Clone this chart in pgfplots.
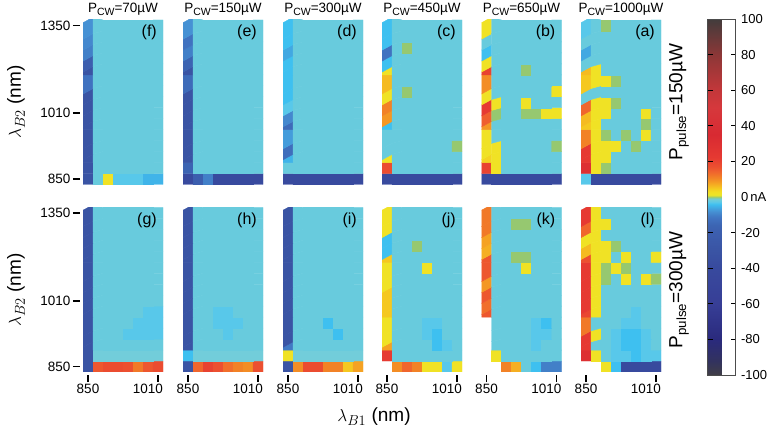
\documentclass[border=0pt]{standalone}
\usepackage{pgfplots}
\pgfplotsset{compat=1.18}
\usepackage{fontspec}
\setmainfont{Liberation Sans}
\pgfplotsset{
  colormap={heat}{
    rgb255(0pt)=(64,62,70);
    rgb255(8pt)=(50,50,95);
    rgb255(20pt)=(42,42,125);
    rgb255(40pt)=(55,62,150);
    rgb255(60pt)=(56,74,158);
    rgb255(70pt)=(58,84,164);
    rgb255(80pt)=(60,94,174);
    rgb255(84pt)=(60,100,178);
    rgb255(88pt)=(64,114,192);
    rgb255(90pt)=(66,128,200);
    rgb255(92pt)=(70,145,212);
    rgb255(94pt)=(66,168,226);
    rgb255(96pt)=(62,192,240);
    rgb255(97pt)=(88,200,234);
    rgb255(98pt)=(104,203,221);
    rgb255(99pt)=(114,205,218);
    rgb255(100pt)=(150,200,112);
    rgb255(101pt)=(238,230,40);
    rgb255(103pt)=(242,222,35);
    rgb255(105pt)=(245,200,32);
    rgb255(108pt)=(245,162,35);
    rgb255(111pt)=(242,130,38);
    rgb255(114pt)=(240,102,45);
    rgb255(117pt)=(236,80,48);
    rgb255(122pt)=(230,58,50);
    rgb255(135pt)=(216,42,50);
    rgb255(150pt)=(214,56,60);
    rgb255(160pt)=(195,55,58);
    rgb255(180pt)=(140,55,55);
    rgb255(200pt)=(66,60,60);
  },
  colormap={heatw}{
    rgb255(0pt)=(255,255,255);
    rgb255(5pt)=(255,255,255);
    rgb255(10pt)=(64,62,70);
    rgb255(18pt)=(50,50,95);
    rgb255(30pt)=(42,42,125);
    rgb255(50pt)=(55,62,150);
    rgb255(70pt)=(56,74,158);
    rgb255(80pt)=(58,84,164);
    rgb255(90pt)=(60,94,174);
    rgb255(94pt)=(60,100,178);
    rgb255(98pt)=(64,114,192);
    rgb255(100pt)=(66,128,200);
    rgb255(102pt)=(70,145,212);
    rgb255(104pt)=(66,168,226);
    rgb255(106pt)=(62,192,240);
    rgb255(107pt)=(88,200,234);
    rgb255(108pt)=(104,203,221);
    rgb255(109pt)=(114,205,218);
    rgb255(110pt)=(150,200,112);
    rgb255(111pt)=(238,230,40);
    rgb255(113pt)=(242,222,35);
    rgb255(115pt)=(245,200,32);
    rgb255(118pt)=(245,162,35);
    rgb255(121pt)=(242,130,38);
    rgb255(124pt)=(240,102,45);
    rgb255(127pt)=(236,80,48);
    rgb255(132pt)=(230,58,50);
    rgb255(145pt)=(216,42,50);
    rgb255(160pt)=(214,56,60);
    rgb255(170pt)=(195,55,58);
    rgb255(190pt)=(140,55,55);
    rgb255(210pt)=(66,60,60);
  },
  panel/.style={
    scale only axis, width=80pt, height=164.5pt,
    xmin=-0.5, xmax=7.5, ymin=-0.5, ymax=14.5,
    enlargelimits=false, anchor=south west,
    axis line style={draw=none},
    colormap name=heat,
    point meta min=-100, point meta max=100,
    xtick=\empty, ytick=\empty,
    xtick pos=bottom, ytick pos=left,
    tick align=outside, major tick length=7pt,
    tick style={black, line width=1.6pt},
    xtick style={yshift=-3pt}, ytick style={xshift=-3pt},
    ticklabel style={font=\fontsize{13.5}{16}\selectfont},
    xticklabel style={yshift=-2pt},
    yticklabel style={xshift=-2pt},
    /pgf/number format/assume math mode=true,
  },
  withblank/.style={colormap name=heatw, point meta min=-110, point meta max=100},
  lefty/.style={ytick={0,6,14}, yticklabels={850,1010,1350}},
  botx/.style={xtick={0,7}, xticklabels={850,\makebox[10pt][r]{1010}}},
  cells/.style={matrix plot*, mesh/cols=8, point meta=explicit},
  /pgfplots/table/celltab/.style={header=false, row sep=\\,
    x expr={mod(\coordindex,8)}, y expr={floor(\coordindex/8)}, meta index=0},
}
\begin{document}
\begin{tikzpicture}[x=1pt,y=1pt]
\useasboundingbox (0,0) rectangle (771,431);
% rows are listed from the bottom (850 nm) to the top (1350 nm)
% ---------------- top row (Ppulse = 150) ----------------
% (f) 70
\begin{axis}[panel, lefty, at={(83pt,246.5pt)}]
\addplot[cells] table[celltab] {
-30\\-2\\2\\-3\\-3\\-3\\-5\\-5\\
-30\\-2\\-2\\-2\\-2\\-2\\-2\\-2\\
-30\\-2\\-2\\-2\\-2\\-2\\-2\\-2\\
-30\\-2\\-2\\-2\\-2\\-2\\-2\\-2\\
-30\\-2\\-2\\-2\\-2\\-2\\-2\\-2\\
-30\\-2\\-2\\-2\\-2\\-2\\-2\\-2\\
-30\\-2\\-2\\-2\\-2\\-2\\-2\\-2\\
-30\\-2\\-2\\-2\\-2\\-2\\-2\\-2\\
-30\\-2\\-2\\-2\\-2\\-2\\-2\\-2\\
-12\\-2\\-2\\-2\\-2\\-2\\-2\\-2\\
-30\\-2\\-2\\-2\\-2\\-2\\-2\\-2\\
-20\\-2\\-2\\-2\\-2\\-2\\-2\\-2\\
-10\\-2\\-2\\-2\\-2\\-2\\-2\\-2\\
-9\\-2\\-2\\-2\\-2\\-2\\-2\\-2\\
-8\\-2\\-2\\-2\\-2\\-2\\-2\\-2\\
};
\end{axis}
% (e) 150
\begin{axis}[panel, at={(183pt,246.5pt)}]
\addplot[cells] table[celltab] {
-40\\-20\\-10\\-40\\-40\\-40\\-40\\-40\\
-16\\-2\\-2\\-2\\-2\\-2\\-2\\-2\\
-30\\-2\\-2\\-2\\-2\\-2\\-2\\-2\\
-30\\-2\\-2\\-2\\-2\\-2\\-2\\-2\\
-30\\-2\\-2\\-2\\-2\\-2\\-2\\-2\\
-30\\-2\\-2\\-2\\-2\\-2\\-2\\-2\\
-30\\-2\\-2\\-2\\-2\\-2\\-2\\-2\\
-30\\-2\\-2\\-2\\-2\\-2\\-2\\-2\\
-30\\-2\\-2\\-2\\-2\\-2\\-2\\-2\\
-14\\-2\\-2\\-2\\-2\\-2\\-2\\-2\\
-30\\-2\\-2\\-2\\-2\\-2\\-2\\-2\\
-16\\-2\\-2\\-2\\-2\\-2\\-2\\-2\\
-10\\-2\\-2\\-2\\-2\\-2\\-2\\-2\\
-12\\-2\\-2\\-2\\-2\\-2\\-2\\-2\\
-8\\-2\\-2\\-2\\-2\\-2\\-2\\-2\\
};
\end{axis}
% (d) 300
\begin{axis}[panel, at={(283pt,246.5pt)}]
\addplot[cells] table[celltab] {
-40\\-40\\-40\\-40\\-40\\-40\\-40\\-40\\
-2\\-2\\-2\\-2\\-2\\-2\\-2\\-2\\
-5\\-2\\-2\\-2\\-2\\-2\\-2\\-2\\
-13\\-2\\-2\\-2\\-2\\-2\\-2\\-2\\
-7\\-2\\-2\\-2\\-2\\-2\\-2\\-2\\
-14\\-2\\-2\\-2\\-2\\-2\\-2\\-2\\
-9\\-2\\-2\\-2\\-2\\-2\\-2\\-2\\
-3\\-2\\-2\\-2\\-2\\-2\\-2\\-2\\
-4\\-2\\-2\\-2\\-2\\-2\\-2\\-2\\
-4\\-2\\-2\\-2\\-2\\-2\\-2\\-2\\
-4\\-2\\-2\\-2\\-2\\-2\\-2\\-2\\
-4\\-2\\-2\\-2\\-2\\-2\\-2\\-2\\
-6\\-2\\-2\\-2\\-2\\-2\\-2\\-2\\
-4\\-2\\-2\\-2\\-2\\-2\\-2\\-2\\
-4\\-2\\-2\\-2\\-2\\-2\\-2\\-2\\
};
\end{axis}
% (c) 450
\begin{axis}[panel, at={(382pt,246.5pt)}]
\addplot[cells] table[celltab] {
-40\\-40\\-40\\-40\\-40\\-40\\-40\\-40\\
18\\-2\\-2\\-2\\-2\\-2\\-2\\-2\\
2\\-2\\-2\\-2\\-2\\-2\\-2\\-2\\
-2\\-2\\-2\\-2\\-2\\-2\\-2\\0\\
-2\\-2\\-2\\-2\\-2\\-2\\-2\\-2\\
-4\\-2\\-2\\-2\\-2\\-2\\-2\\-2\\
9\\-2\\-2\\-2\\-2\\-2\\-2\\-2\\
11\\-2\\-2\\-2\\-2\\-2\\-2\\-2\\
2\\-2\\0\\-2\\-2\\-2\\-2\\-2\\
6\\-2\\-2\\-2\\-2\\-2\\-2\\-2\\
2\\-2\\-2\\-2\\-2\\-2\\-2\\-2\\
-4\\-2\\-2\\-2\\-2\\-2\\-2\\-2\\
-12\\-2\\0\\-2\\-2\\-2\\-2\\-2\\
-4\\-2\\-2\\-2\\-2\\-2\\-2\\-2\\
-4\\-2\\-2\\-2\\-2\\-2\\-2\\-2\\
};
\end{axis}
% (b) 650
\begin{axis}[panel, at={(481.5pt,246.5pt)}]
\addplot[cells] table[celltab] {
-40\\-40\\-40\\-40\\-40\\-40\\-40\\-40\\
20\\2\\-2\\-2\\-2\\-2\\-2\\-2\\
4\\2\\-2\\-2\\-2\\-2\\-2\\-2\\
2\\2\\-2\\-2\\-2\\-2\\-2\\0\\
2\\-2\\-2\\-2\\-2\\-2\\-2\\-2\\
9\\-2\\-2\\-2\\-2\\-2\\-2\\-2\\
15\\0\\-2\\-2\\0\\0\\2\\2\\
22\\2\\-2\\-2\\2\\-2\\-2\\-2\\
2\\-2\\-2\\-2\\-2\\-2\\-2\\2\\
10\\-2\\-2\\-2\\-2\\-2\\-2\\-2\\
20\\-2\\-2\\-2\\0\\-2\\-2\\-2\\
2\\-2\\-2\\-2\\-2\\-2\\-2\\-2\\
-4\\-2\\-2\\-2\\-2\\-2\\-2\\-2\\
-2\\-2\\-2\\-2\\-2\\-2\\-2\\-2\\
2\\-2\\-2\\-2\\-2\\-2\\-2\\-2\\
};
\end{axis}
% (a) 1000
\begin{axis}[panel, at={(581pt,246.5pt)},
  colorbar,
  colorbar style={
    at={(parent axis.north east)}, anchor=north west,
    xshift=38pt, yshift=1pt,
    scale only axis, width=28pt, height=356pt,
    ytick={-80,-60,-40,-20,20,40,60,80},
    yticklabels={-80,-60,-40,-20,20,40,60,80},
    extra y ticks={-100,0,100},
    extra y tick labels={-100,0\,nA,100},
    extra y tick style={major tick length=0pt},
    tick align=inside, major tick length=5pt,
    ytick pos=both, yticklabel pos=right,
    tick style={black, line width=1pt},
    yticklabel style={font=\fontsize{13}{15}\selectfont, anchor=west, xshift=2pt},
    axis line style={draw=black!70, line width=0.8pt},
    /pgf/number format/assume math mode=true,
  }]
\addplot[cells] table[celltab] {
-3\\-40\\-40\\-40\\-40\\-40\\-40\\-40\\
30\\2\\0\\-2\\-2\\-2\\-2\\-2\\
22\\2\\2\\-2\\-2\\-2\\-2\\-2\\
22\\2\\2\\2\\-2\\0\\-2\\-2\\
11\\2\\0\\-2\\0\\-2\\2\\-2\\
5\\2\\-2\\-2\\-2\\-2\\0\\-2\\
6\\2\\2\\-2\\-2\\-2\\2\\-2\\
14\\2\\2\\0\\-2\\-2\\-2\\-2\\
-2\\-2\\-2\\-2\\-2\\-2\\-2\\-2\\
5\\2\\2\\0\\-2\\-2\\-2\\-2\\
6\\2\\-2\\-2\\-2\\-2\\-2\\-2\\
-2\\-2\\-2\\-2\\-2\\-2\\-2\\-2\\
-6\\-2\\-2\\-2\\-2\\-2\\-2\\-2\\
-2\\-2\\-2\\-2\\-2\\-2\\-2\\-2\\
-3\\-2\\0\\-2\\-2\\-2\\-2\\-2\\
};
\end{axis}
% ---------------- bottom row (Ppulse = 300) ----------------
% (g) 70
\begin{axis}[panel, lefty, botx, at={(83pt,59pt)}]
\addplot[cells] table[celltab] {
-30\\16\\18\\18\\17\\12\\16\\18\\
-30\\-1\\-1\\-1\\-1\\-1\\-1\\-1\\
-30\\-2\\-2\\-2\\-2\\-2\\-2\\-2\\
-30\\-2\\-2\\-2\\-3\\-3\\-3\\-3\\
-30\\-2\\-2\\-2\\-2\\-3\\-3\\-3\\
-30\\-2\\-2\\-2\\-2\\-2\\-3\\-3\\
-30\\-2\\-2\\-2\\-2\\-2\\-2\\-2\\
-30\\-2\\-2\\-2\\-2\\-2\\-2\\-2\\
-30\\-2\\-2\\-2\\-2\\-2\\-2\\-2\\
-30\\-2\\-2\\-2\\-2\\-2\\-2\\-2\\
-30\\-2\\-2\\-2\\-2\\-2\\-2\\-2\\
-30\\-2\\-2\\-2\\-2\\-2\\-2\\-2\\
-30\\-2\\-2\\-2\\-2\\-2\\-2\\-2\\
-30\\-2\\-2\\-2\\-2\\-2\\-2\\-2\\
-30\\-2\\-2\\-2\\-2\\-2\\-2\\-2\\
};
\end{axis}
% (h) 150
\begin{axis}[panel, botx, at={(183pt,59pt)}]
\addplot[cells] table[celltab] {
-30\\14\\20\\17\\13\\11\\10\\17\\
-4\\-1\\-1\\-1\\-1\\-1\\-1\\-1\\
-30\\-2\\-2\\-2\\-2\\-2\\-2\\-2\\
-30\\-2\\-2\\-2\\-3\\-2\\-2\\-2\\
-30\\-2\\-2\\-3\\-3\\-3\\-2\\-2\\
-30\\-2\\-2\\-3\\-3\\-2\\-2\\-2\\
-30\\-2\\-2\\-2\\-2\\-2\\-2\\-2\\
-30\\-2\\-2\\-2\\-2\\-2\\-2\\-2\\
-30\\-2\\-2\\-2\\-2\\-2\\-2\\-2\\
-30\\-2\\-2\\-2\\-2\\-2\\-2\\-2\\
-30\\-2\\-2\\-2\\-2\\-2\\-2\\-2\\
-30\\-2\\-2\\-2\\-2\\-2\\-2\\-2\\
-30\\-2\\-2\\-2\\-2\\-2\\-2\\-2\\
-30\\-2\\-2\\-2\\-2\\-2\\-2\\-2\\
-30\\-2\\-2\\-2\\-2\\-2\\-2\\-2\\
};
\end{axis}
% (i) 300
\begin{axis}[panel, botx, at={(283pt,59pt)}]
\addplot[cells] table[celltab] {
-30\\10\\18\\18\\11\\11\\5\\8\\
2\\-1\\-1\\-1\\-1\\-1\\-1\\-1\\
-11\\-2\\-2\\-2\\-2\\-2\\-2\\-2\\
-30\\-2\\-2\\-2\\-2\\-4\\-2\\-2\\
-30\\-2\\-2\\-2\\-4\\-2\\-2\\-2\\
-30\\-2\\-2\\-2\\-2\\-2\\-2\\-2\\
-30\\-2\\-2\\-2\\-2\\-2\\-2\\-2\\
-30\\-2\\-2\\-2\\-2\\-2\\-2\\-2\\
-30\\-2\\-2\\-2\\-2\\-2\\-2\\-2\\
-30\\-2\\-2\\-2\\-2\\-2\\-2\\-2\\
-30\\-2\\-2\\-2\\-2\\-2\\-2\\-2\\
-30\\-2\\-2\\-2\\-2\\-2\\-2\\-2\\
-30\\-2\\-2\\-2\\-2\\-2\\-2\\-2\\
-30\\-2\\-2\\-2\\-2\\-2\\-2\\-2\\
-30\\-2\\-2\\-2\\-2\\-2\\-2\\-2\\
};
\end{axis}
% (j) 450  (-110 = no data, white)
\begin{axis}[panel, withblank, botx, at={(382pt,59pt)}]
\addplot[cells] table[celltab] {
-110\\10\\14\\11\\2\\2\\-3\\2\\
22\\-2\\-2\\-2\\-2\\-2\\-2\\-2\\
8\\-2\\-2\\-2\\-2\\-4\\-3\\-2\\
2\\-2\\-2\\-2\\-3\\-4\\-2\\-2\\
2\\-2\\-2\\-2\\-3\\-3\\-2\\-2\\
5\\-2\\-2\\-2\\-2\\-2\\-2\\-2\\
5\\-2\\-2\\-2\\-2\\-2\\-2\\-2\\
5\\-2\\-2\\-2\\-2\\-2\\-2\\-2\\
2\\-2\\-2\\-2\\-2\\-2\\-2\\-2\\
2\\-2\\-2\\-2\\2\\-2\\-2\\-2\\
5\\-2\\-2\\-2\\-2\\-2\\-2\\-2\\
-4\\-2\\-2\\0\\-2\\-2\\-2\\-2\\
-4\\-2\\-2\\-2\\-2\\-2\\-2\\-2\\
2\\-2\\-2\\-2\\-2\\-2\\-2\\-2\\
2\\-2\\-2\\-2\\-2\\-2\\-2\\-2\\
};
\end{axis}
% (k) 650
\begin{axis}[panel, withblank, botx, at={(481.5pt,59pt)}]
\addplot[cells] table[celltab] {
-110\\-110\\11\\7\\-2\\-4\\-10\\-10\\
-110\\2\\-2\\-2\\-2\\-2\\-2\\-2\\
-110\\-2\\-2\\-2\\-2\\-3\\-2\\-2\\
-110\\-2\\-2\\-2\\-2\\-3\\-3\\-2\\
-110\\-2\\-2\\-2\\-2\\-3\\-4\\-2\\
16\\-2\\-2\\-2\\-2\\-2\\-2\\-2\\
13\\-2\\-2\\-2\\-2\\-2\\-2\\-2\\
16\\-2\\-2\\-2\\-2\\-2\\-2\\-2\\
9\\-2\\-2\\-2\\-2\\-2\\-2\\-2\\
16\\-2\\-2\\-2\\2\\-2\\-2\\-2\\
16\\-2\\-2\\0\\0\\-2\\-2\\-2\\
7\\-2\\-2\\-2\\-2\\-2\\-2\\-2\\
8\\-2\\-2\\-2\\-2\\-2\\-2\\-2\\
12\\-2\\-2\\0\\0\\-2\\-2\\-2\\
12\\-2\\-2\\-2\\-2\\-2\\-2\\-2\\
};
\end{axis}
% (l) 1000
\begin{axis}[panel, withblank, botx, at={(581pt,59pt)}]
\addplot[cells] table[celltab] {
-110\\-110\\2\\-4\\-40\\-40\\-40\\-40\\
30\\2\\-2\\-3\\-3\\-4\\-3\\-3\\
22\\-2\\-2\\-3\\-4\\-4\\-3\\-2\\
22\\2\\-2\\-3\\-4\\-4\\-3\\-2\\
12\\-2\\-2\\-2\\-3\\-3\\-2\\-2\\
19\\2\\-2\\-2\\-2\\-3\\-2\\-2\\
22\\2\\-2\\-2\\-2\\-2\\-2\\-2\\
22\\2\\-2\\-2\\-2\\-2\\-2\\-2\\
22\\2\\0\\-2\\2\\-2\\2\\0\\
22\\2\\0\\2\\0\\-2\\-2\\-2\\
17\\2\\2\\-2\\2\\-2\\-2\\2\\
6\\2\\2\\0\\-2\\-2\\-2\\-2\\
2\\2\\-2\\-2\\-2\\-2\\-2\\-2\\
14\\2\\2\\-2\\-2\\-2\\-2\\-2\\
22\\2\\-2\\-2\\-2\\-2\\-2\\-2\\
};
\end{axis}
% ---------------- text ----------------
\def\tfont{\fontsize{13.5}{16}\selectfont}
\def\sub#1{\raisebox{-0.35ex}{\fontsize{10.5}{12}\selectfont #1}}
\foreach \cx/\p in {123/70, 223/150, 323/300, 422/450, 521.5/650, 621/1000}{
  \node[anchor=base, font=\tfont, inner sep=0pt] at (\cx,418) {P\sub{CW}=\p µW};
}
\foreach \cx/\cy/\l in {157/406/f, 257/406/e, 357/406/d, 456/406/c, 555.5/406/b, 655/406/a,
                        157/218.5/g, 257/218.5/h, 357/218.5/i, 456/218.5/j, 555.5/218.5/k, 655/218.5/l}{
  \node[anchor=north east, font=\fontsize{16}{18}\selectfont, inner sep=0pt] at (\cx,\cy) {(\l)};
}
\node[rotate=90, font=\fontsize{19}{21}\selectfont] at (16,329) {$\lambda_{B2}$ (nm)};
\node[rotate=90, font=\fontsize{19}{21}\selectfont] at (16,141) {$\lambda_{B2}$ (nm)};
\node[font=\fontsize{19}{21}\selectfont] at (374,14) {$\lambda_{B1}$ (nm)};
\node[rotate=90, font=\fontsize{19}{21}\selectfont] at (679,329) {P\textsubscript{pulse}=150µW};
\node[rotate=90, font=\fontsize{19}{21}\selectfont] at (679,141) {P\textsubscript{pulse}=300µW};
\end{tikzpicture}
\end{document}
